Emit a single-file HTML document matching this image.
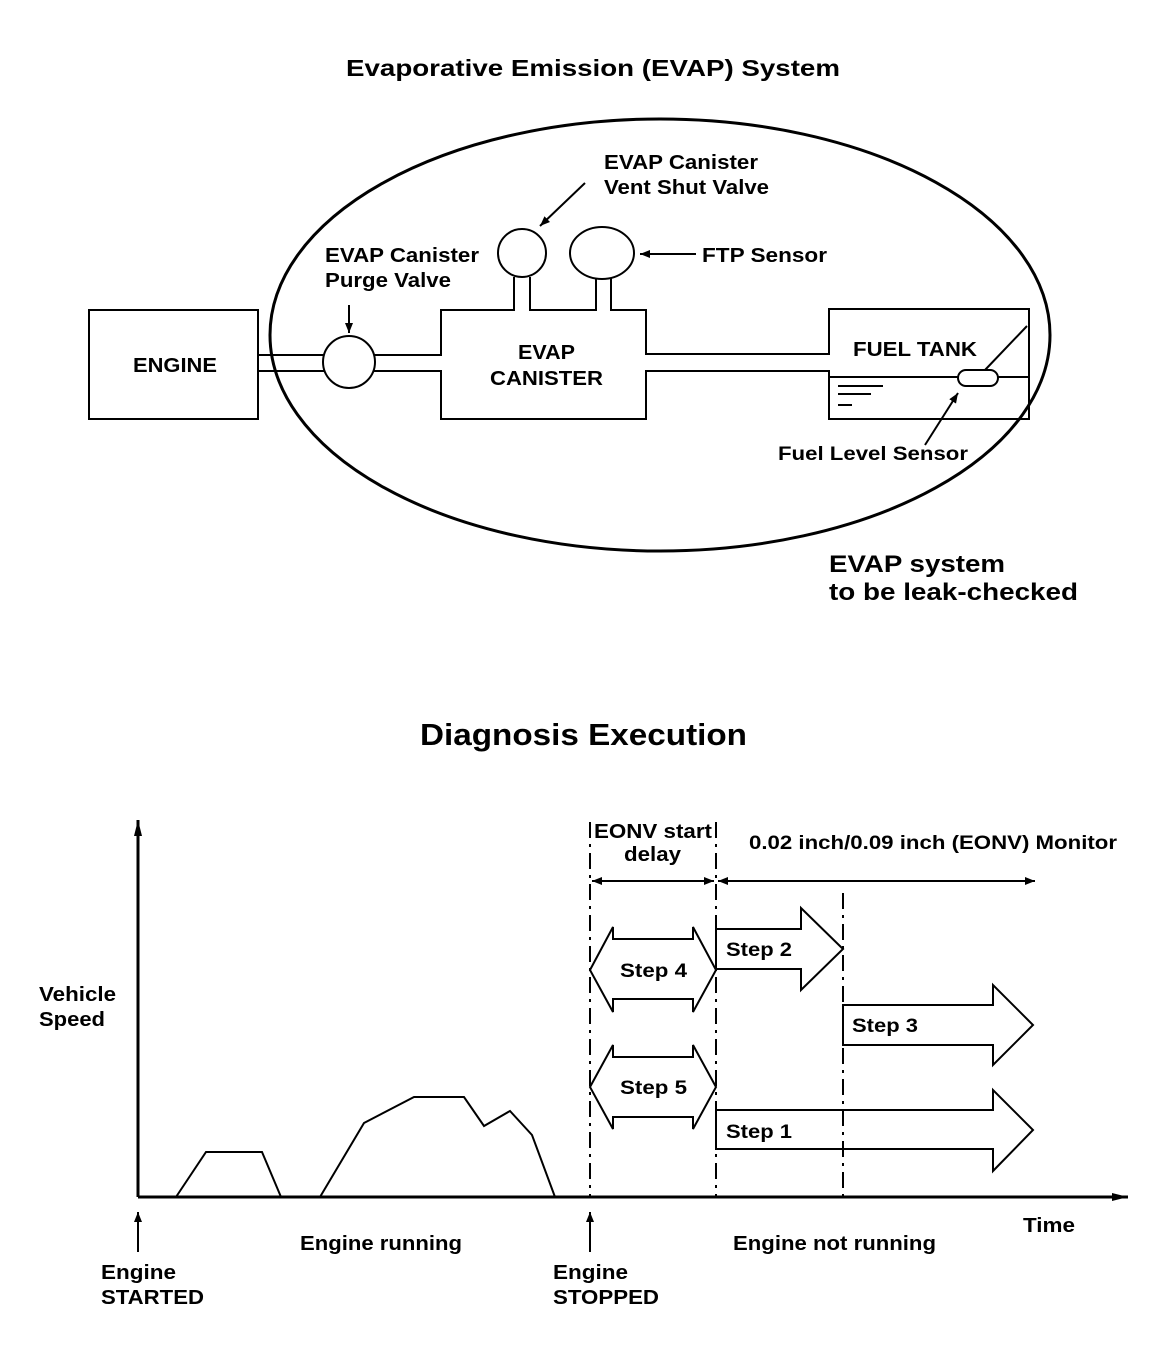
<!DOCTYPE html>
<html><head><style>html,body{margin:0;padding:0;background:#fff}</style></head><body>
<svg width="1152" height="1356" viewBox="0 0 1152 1356" xmlns="http://www.w3.org/2000/svg" font-family="Liberation Sans, Arial, sans-serif" font-weight="bold" fill="none" stroke="#000" stroke-width="2">
<defs>
<marker id="a" viewBox="0 0 10 10" refX="10" refY="5" markerWidth="10" markerHeight="10" markerUnits="userSpaceOnUse" orient="auto"><path d="M0,1 L10,5 L0,9 Z" fill="#000" stroke="none"/></marker>
<marker id="b" viewBox="0 0 16 10" refX="16" refY="5" markerWidth="16" markerHeight="10" markerUnits="userSpaceOnUse" orient="auto"><path d="M0,1 L16,5 L0,9 Z" fill="#000" stroke="none"/></marker>
</defs>
<g fill="#000" stroke="none" lengthAdjust="spacingAndGlyphs">
<text x="346" y="76" font-size="23" textLength="494" lengthAdjust="spacingAndGlyphs">Evaporative Emission (EVAP) System</text>
<text x="604" y="169" font-size="20" textLength="154" lengthAdjust="spacingAndGlyphs">EVAP Canister</text>
<text x="604" y="194" font-size="20" textLength="165" lengthAdjust="spacingAndGlyphs">Vent Shut Valve</text>
<text x="702" y="262" font-size="20" textLength="125" lengthAdjust="spacingAndGlyphs">FTP Sensor</text>
<text x="325" y="262" font-size="20" textLength="154" lengthAdjust="spacingAndGlyphs">EVAP Canister</text>
<text x="325" y="287" font-size="20" textLength="126" lengthAdjust="spacingAndGlyphs">Purge Valve</text>
<text x="133" y="372" font-size="20" textLength="84" lengthAdjust="spacingAndGlyphs">ENGINE</text>
<text x="518" y="359" font-size="20" textLength="57" lengthAdjust="spacingAndGlyphs">EVAP</text>
<text x="490" y="385" font-size="20" textLength="113" lengthAdjust="spacingAndGlyphs">CANISTER</text>
<text x="853" y="356" font-size="20" textLength="124" lengthAdjust="spacingAndGlyphs">FUEL TANK</text>
<text x="778" y="460" font-size="19" textLength="190" lengthAdjust="spacingAndGlyphs">Fuel Level Sensor</text>
<text x="829" y="572" font-size="24" textLength="176" lengthAdjust="spacingAndGlyphs">EVAP system</text>
<text x="829" y="600" font-size="24" textLength="249" lengthAdjust="spacingAndGlyphs">to be leak-checked</text>
<text x="420" y="745" font-size="31" textLength="327" lengthAdjust="spacingAndGlyphs">Diagnosis Execution</text>
<text x="594" y="838" font-size="20" textLength="118" lengthAdjust="spacingAndGlyphs">EONV start</text>
<text x="624" y="861" font-size="20" textLength="57" lengthAdjust="spacingAndGlyphs">delay</text>
<text x="749" y="849" font-size="19" textLength="368" lengthAdjust="spacingAndGlyphs">0.02 inch/0.09 inch (EONV) Monitor</text>
<text x="39" y="1001" font-size="20" textLength="77" lengthAdjust="spacingAndGlyphs">Vehicle</text>
<text x="39" y="1026" font-size="20" textLength="66" lengthAdjust="spacingAndGlyphs">Speed</text>
<text x="620" y="977" font-size="19" textLength="67" lengthAdjust="spacingAndGlyphs">Step 4</text>
<text x="620" y="1094" font-size="19" textLength="67" lengthAdjust="spacingAndGlyphs">Step 5</text>
<text x="726" y="956" font-size="19" textLength="66" lengthAdjust="spacingAndGlyphs">Step 2</text>
<text x="852" y="1032" font-size="19" textLength="66" lengthAdjust="spacingAndGlyphs">Step 3</text>
<text x="726" y="1138" font-size="19" textLength="66" lengthAdjust="spacingAndGlyphs">Step 1</text>
<text x="1023" y="1232" font-size="20" textLength="52" lengthAdjust="spacingAndGlyphs">Time</text>
<text x="300" y="1250" font-size="20" textLength="162" lengthAdjust="spacingAndGlyphs">Engine running</text>
<text x="733" y="1250" font-size="20" textLength="203" lengthAdjust="spacingAndGlyphs">Engine not running</text>
<text x="101" y="1279" font-size="20" textLength="75" lengthAdjust="spacingAndGlyphs">Engine</text>
<text x="101" y="1304" font-size="20" textLength="103" lengthAdjust="spacingAndGlyphs">STARTED</text>
<text x="553" y="1279" font-size="20" textLength="75" lengthAdjust="spacingAndGlyphs">Engine</text>
<text x="553" y="1304" font-size="20" textLength="106" lengthAdjust="spacingAndGlyphs">STOPPED</text>
</g>
<ellipse cx="660" cy="335" rx="390" ry="216" stroke-width="3"/>
<rect x="89" y="310" width="169" height="109"/>
<path d="M258,355 H324 M258,371 H324 M374,355 H441 V310 H514 V277 M530,277 V310 H596 V278 M611,278 V310 H646 V354 H829 V309 H1029 V419 H829 V371 H646 V419 H441 V371 H374"/>
<circle cx="349" cy="362" r="26"/>
<ellipse cx="522" cy="253" rx="24" ry="24"/>
<ellipse cx="602" cy="253" rx="32" ry="26"/>
<path d="M829,377 H958 M998,377 H1029 M985,370 L1027,326 M838,386 H883 M838,394 H871 M838,405 H852"/>
<rect x="958" y="370" width="40" height="16" rx="8"/>
<path d="M925,445 L958,393" marker-end="url(#a)"/>
<path d="M349,305 V333" marker-end="url(#a)"/>
<path d="M585,183 L540,226" marker-end="url(#a)"/>
<path d="M696,254 H640" marker-end="url(#a)"/>
<path d="M138,1197 V820" marker-end="url(#b)" stroke-width="3"/>
<path d="M138,1197 H1128" marker-end="url(#b)" stroke-width="3"/>
<path d="M176,1197 L206,1152 L262,1152 L281,1197 M320,1197 L364,1123 L414,1097 L464,1097 L484,1126 L510,1111 L532,1135 L555,1197"/>
<path d="M590,822 V1197 M716,822 V1197 M843,893 V1197" stroke-dasharray="16,6,3,6"/>
<path d="M592,881 H714" marker-end="url(#a)"/>
<path d="M714,881 H592" marker-end="url(#a)"/>
<path d="M718,881 H1035" marker-end="url(#a)"/>
<path d="M1035,881 H718" marker-end="url(#a)"/>
<path d="M590,970 L613,927 V939 H693 V927 L716,970 L693,1012 V999 H613 V1012 Z"/>
<path d="M590,1087 L613,1045 V1057 H693 V1045 L716,1087 L693,1129 V1117 H613 V1129 Z"/>
<path d="M716,929 H801 V908 L843,949 L801,990 V969 H716 Z"/>
<path d="M843,1005 H993 V985 L1033,1025 L993,1065 V1045 H843 Z"/>
<path d="M716,1110 H993 V1090 L1033,1130 L993,1171 V1149 H716 Z"/>
<path d="M138,1252 V1212" marker-end="url(#a)"/>
<path d="M590,1252 V1212" marker-end="url(#a)"/>
</svg>
</body></html>
